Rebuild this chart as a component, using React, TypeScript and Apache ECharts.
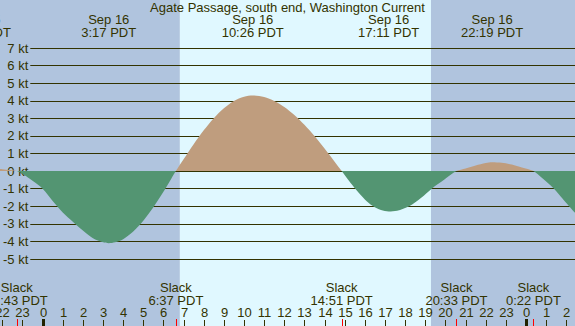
import React, { useEffect, useRef } from 'react';
import * as echarts from 'echarts';

const TITLE = 'Agate Passage, south end, Washington Current';
const MONTH = 'Sep';
const BASE_DAY = 16;

// tidal current (knots), hours relative to Sep 16 00:00 PDT
const currentHours = [
  -3.2, -2.6, -2.0, -1.6, -1.283, -1.0, -0.5, 0, 0.5, 1.0, 1.5, 2.0, 2.5, 3.0, 3.283,
  3.6, 4.0, 4.5, 5.0, 5.5, 6.0, 6.3, 6.617, 7.0, 7.5, 8.0, 8.5, 9.0, 9.5, 10.0, 10.433,
  11.0, 11.5, 12.0, 12.5, 13.0, 13.5, 14.0, 14.5, 14.85, 15.2, 15.6, 16.0, 16.4, 16.8,
  17.183, 17.6, 18.2, 18.8, 19.32, 19.95, 20.55, 21.0, 21.5, 22.0, 22.317, 22.8, 23.3,
  23.8, 24.367, 24.8, 25.39, 25.8, 26.14, 26.5, 26.9,
];
const currentKnots = [
  0.15, 0.14, 0.11, 0.06, 0, -0.15, -0.55, -1.0, -1.7, -2.35, -2.88, -3.38, -3.82, -4.05, -4.1,
  -4.05, -3.87, -3.44, -2.83, -2.06, -1.18, -0.61, 0, 0.67, 1.53, 2.32, 3.01, 3.57, 3.99, 4.23, 4.3,
  4.21, 3.99, 3.65, 3.19, 2.63, 1.99, 1.28, 0.53, 0, -0.54, -1.11, -1.61, -1.99, -2.22,
  -2.3, -2.26, -2.0, -1.52, -1.0, -0.48, 0, 0.15, 0.32, 0.46, 0.5, 0.47, 0.37,
  0.2, 0, -0.4, -1.0, -1.55, -2.0, -2.45, -2.85,
];

// max current events (top labels)
const maxDayOffset = [-1, 0, 0, 0, 0];
const maxTimes = ['20:53', '3:17', '10:26', '17:11', '22:19'];
// slack events (bottom labels)
const slackDayOffset = [-1, 0, 0, 0, 1];
const slackTimes = ['22:43', '6:37', '14:51', '20:33', '0:22'];

// daylight
const sunsetPrev = ['19:19', -1];
const sunrise = ['6:49', 0];
const sunset = ['19:17', 0];
const sunriseNext = ['6:50', 1];

const hourTicks = [-2, -1, 0, 1, 2, 3, 4, 5, 6, 7, 8, 9, 10, 11, 12, 13, 14, 15, 16, 17, 18, 19, 20, 21, 22, 23, 24, 25, 26];
const midnightTicks = [0, 24];
const knotMin = -5;
const knotMax = 7;

const X_MIN = -2.115;
const X_MAX = 26.434;

const NIGHT = '#b0c4de';
const DAY = '#e0f8ff';
const FLOOD = '#bf9d7e';
const EBB = '#539572';
const INK = '#333300';
const FONT = '"Liberation Sans", Arial, sans-serif';

function toHours(time: string, dayOffset: number) {
  const [h, m] = time.split(':').map(Number);
  return dayOffset * 24 + h + m / 60;
}

const maxHours = maxTimes.map((t, i) => toHours(t, maxDayOffset[i]));
const slackHours = slackTimes.map((t, i) => toHours(t, slackDayOffset[i]));
const bands = [
  [toHours(sunsetPrev[0] as string, sunsetPrev[1] as number), toHours(sunrise[0] as string, sunrise[1] as number), 0],
  [toHours(sunrise[0] as string, sunrise[1] as number), toHours(sunset[0] as string, sunset[1] as number), 1],
  [toHours(sunset[0] as string, sunset[1] as number), toHours(sunriseNext[0] as string, sunriseNext[1] as number), 0],
];

export default function App() {
  const ref = useRef<HTMLDivElement>(null);
  useEffect(() => {
    if (!ref.current) return;
    const chart = echarts.init(ref.current, undefined, { renderer: 'svg' });
    const option: any = {
      animation: false,
      title: {
        text: TITLE,
        left: 'center',
        top: 0,
        padding: 0,
        textStyle: { fontSize: 13, fontWeight: 'normal', color: INK, fontFamily: FONT, lineHeight: 14 },
      },
      grid: [
        { left: 0, right: 0, top: 48, height: 211 },
        { left: 30, right: 0, top: 48, height: 211 },
      ],
      xAxis: [
        { type: 'value', gridIndex: 0, min: X_MIN, max: X_MAX, show: false },
        { type: 'value', gridIndex: 1, min: X_MIN, max: X_MAX, show: false },
      ],
      yAxis: [
        { type: 'value', gridIndex: 0, min: knotMin, max: knotMax, show: false },
        {
          type: 'value',
          gridIndex: 1,
          min: knotMin,
          max: knotMax,
          interval: 1,
          axisLine: { show: false },
          axisTick: { show: false },
          splitLine: { show: true, lineStyle: { color: INK, width: 1 } },
          axisLabel: { margin: 2, color: INK, fontSize: 13, fontFamily: FONT, lineHeight: 13, formatter: (v: number) => `${v} kt` },
        },
      ],
      series: [
        {
          type: 'custom',
          xAxisIndex: 0,
          yAxisIndex: 0,
          z: -1,
          silent: true,
          clip: false,
          data: bands,
          renderItem: (params: any, api: any) => {
            const x0 = api.coord([api.value(0), 0])[0];
            const x1 = api.coord([api.value(1), 0])[0];
            return {
              type: 'rect',
              shape: { x: x0, y: 0, width: x1 - x0, height: api.getHeight() },
              style: { fill: api.value(2) ? DAY : NIGHT },
            };
          },
        },
        {
          type: 'line',
          xAxisIndex: 0,
          yAxisIndex: 0,
          z: 2,
          smooth: 0.3,
          showSymbol: false,
          symbol: 'none',
          silent: true,
          lineStyle: { width: 0, opacity: 0 },
          areaStyle: { opacity: 1, color: EBB },
          data: currentHours.map((h, i) => [h, currentKnots[i]]),
        },
        {
          type: 'custom',
          xAxisIndex: 0,
          yAxisIndex: 0,
          z: 3,
          silent: true,
          clip: false,
          data: maxHours.map((h) => [h, 0]),
          renderItem: (params: any, api: any) => {
            const i = params.dataIndex;
            const x = api.coord([api.value(0), 0])[0];
            return {
              type: 'text',
              x,
              y: 26,
              style: {
                text: `${MONTH} ${BASE_DAY + maxDayOffset[i]}\n${maxTimes[i]} PDT`,
                align: 'center',
                verticalAlign: 'middle',
                fontSize: 13,
                fontFamily: FONT,
                lineHeight: 13,
                fill: INK,
              },
            };
          },
        },
        {
          type: 'custom',
          xAxisIndex: 0,
          yAxisIndex: 0,
          z: 3,
          silent: true,
          clip: false,
          data: hourTicks.map((h) => [h, 0]),
          renderItem: (params: any, api: any) => {
            const v = api.value(0);
            const x = Math.round(api.coord([v, 0])[0]) + 0.5;
            const h = api.getHeight();
            return {
              type: 'group',
              children: [
                {
                  type: 'line',
                  shape: { x1: x, y1: h - 6, x2: x, y2: h },
                  style: { stroke: INK, lineWidth: 1 },
                },
                {
                  type: 'text',
                  x,
                  y: 312.5,
                  style: {
                    text: String(((v % 24) + 24) % 24),
                    align: 'center',
                    verticalAlign: 'middle',
                    fontSize: 13,
                    lineHeight: 12,
                    fontFamily: FONT,
                    fill: INK,
                  },
                },
              ],
            };
          },
        },
        {
          type: 'custom',
          xAxisIndex: 0,
          yAxisIndex: 0,
          z: 4,
          silent: true,
          clip: false,
          data: slackHours.map((h) => [h, 0]),
          renderItem: (params: any, api: any) => {
            const i = params.dataIndex;
            const x = api.coord([api.value(0), 0])[0];
            const h = api.getHeight();
            return {
              type: 'group',
              children: [
                {
                  type: 'text',
                  x,
                  y: 293.5,
                  style: {
                    text: `Slack\n${slackTimes[i]} PDT`,
                    align: 'center',
                    verticalAlign: 'middle',
                    fontSize: 13,
                    fontFamily: FONT,
                    lineHeight: 13,
                    fill: INK,
                  },
                },
                {
                  type: 'line',
                  shape: { x1: Math.round(x) + 0.5, y1: h - 7, x2: Math.round(x) + 0.5, y2: h },
                  style: { stroke: '#ff0000', lineWidth: 1 },
                },
              ],
            };
          },
        },
        {
          type: 'custom',
          xAxisIndex: 0,
          yAxisIndex: 0,
          z: 4,
          silent: true,
          clip: false,
          data: midnightTicks.map((h) => [h, 0]),
          renderItem: (params: any, api: any) => {
            const x = api.coord([api.value(0), 0])[0];
            const h = api.getHeight();
            return {
              type: 'rect',
              shape: { x: Math.round(x) - 1, y: h - 7, width: 3, height: 7 },
              style: { fill: '#222200' },
            };
          },
        },
      ],
    };
    chart.setOption(option);
    // split the area fill at the zero-knot line: flood above, ebb below
    const H = chart.getHeight();
    const zeroY = (chart.convertToPixel({ gridIndex: 0 } as any, [0, 0]) as number[])[1];
    const f = Math.min(1, Math.max(0, zeroY / H));
    chart.setOption({
      series: [
        {},
        {
          areaStyle: {
            opacity: 1,
            color: new echarts.graphic.LinearGradient(
              0,
              0,
              0,
              H,
              [
                { offset: 0, color: FLOOD },
                { offset: f, color: FLOOD },
                { offset: f, color: EBB },
                { offset: 1, color: EBB },
              ],
              true
            ),
          },
        },
      ],
    });
    return () => chart.dispose();
  }, []);
  return <div ref={ref} style={{ position: 'absolute', left: 0, top: 0, width: 575, height: 326 }} />;
}
